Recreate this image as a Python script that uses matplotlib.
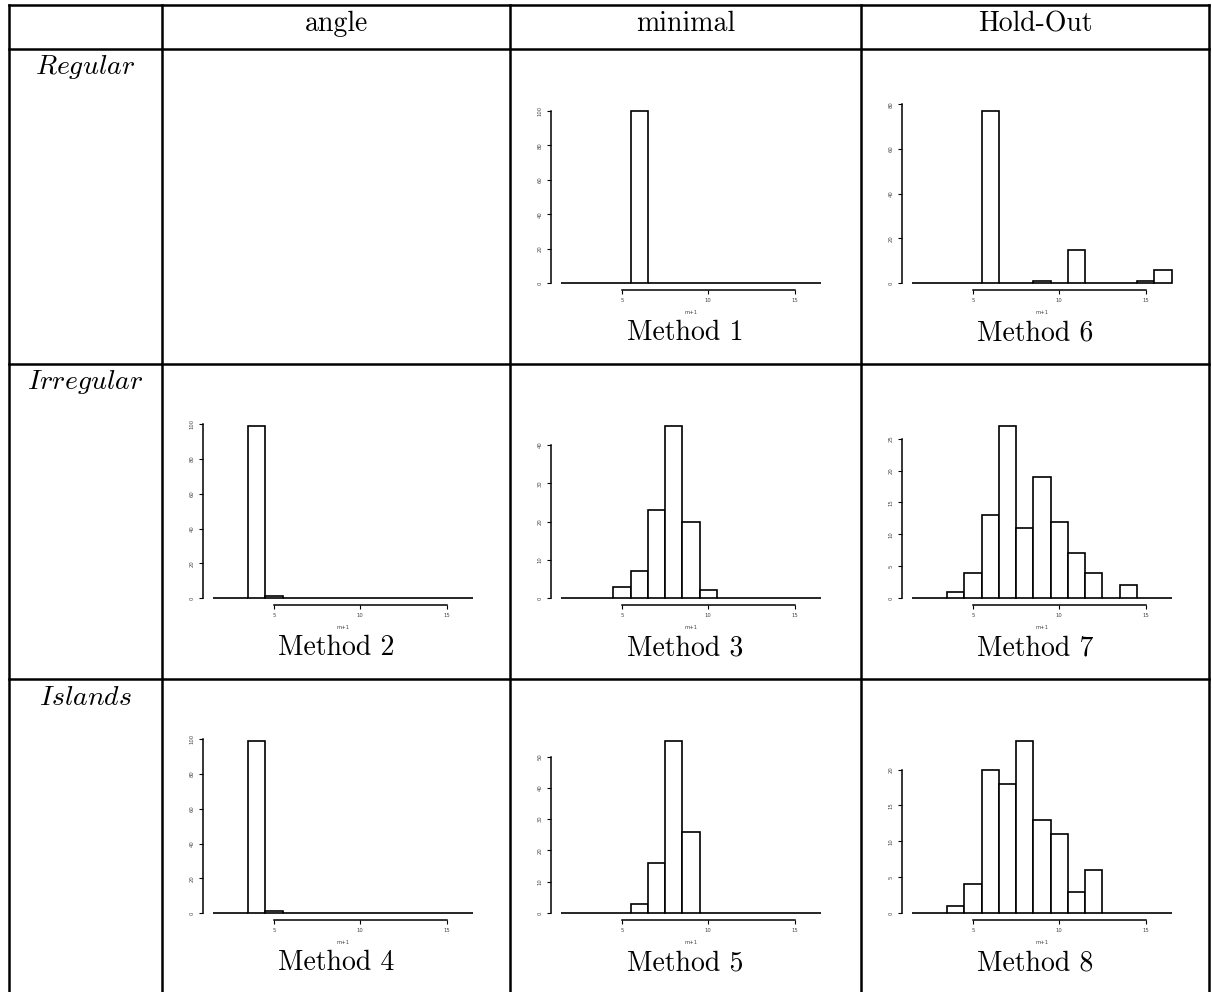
import matplotlib
matplotlib.use("Agg")
import matplotlib.pyplot as plt
from matplotlib.lines import Line2D

plt.rcParams['mathtext.fontset'] = 'cm'

# ---------------- data ----------------
bins = list(range(2, 17))          # histogram bin centres (m+1)
col_labels = ["angle", "minimal", "Hold-Out"]
row_labels = ["Regular", "Irregular", "Islands"]

m1 = [0, 0, 0, 0, 100, 0, 0, 0, 0, 0, 0, 0, 0, 0, 0]
m6 = [0, 0, 0, 0, 77, 0, 0, 1, 0, 15, 0, 0, 0, 1, 6]
m2 = [0, 0, 99, 1, 0, 0, 0, 0, 0, 0, 0, 0, 0, 0, 0]
m3 = [0, 0, 0, 3, 7, 23, 45, 20, 2, 0, 0, 0, 0, 0, 0]
m7 = [0, 0, 1, 4, 13, 27, 11, 19, 12, 7, 4, 0, 2, 0, 0]
m4 = [0, 0, 99, 1, 0, 0, 0, 0, 0, 0, 0, 0, 0, 0, 0]
m5 = [0, 0, 0, 0, 3, 16, 55, 26, 0, 0, 0, 0, 0, 0, 0]
m8 = [0, 0, 1, 4, 20, 18, 24, 13, 11, 3, 6, 0, 0, 0, 0]

yt_m1 = [0, 20, 40, 60, 80, 100]
yt_m6 = [0, 20, 40, 60, 80]
yt_m2 = [0, 20, 40, 60, 80, 100]
yt_m3 = [0, 10, 20, 30, 40]
yt_m7 = [0, 5, 10, 15, 20, 25]
yt_m4 = [0, 20, 40, 60, 80, 100]
yt_m5 = [0, 10, 20, 30, 40, 50]
yt_m8 = [0, 5, 10, 15, 20]
xt = [5, 10, 15]

# (row, col, counts, yticks, label)
panels = [
    (0, 1, m1, yt_m1, "Method 1"),
    (0, 2, m6, yt_m6, "Method 6"),
    (1, 0, m2, yt_m2, "Method 2"),
    (1, 1, m3, yt_m3, "Method 3"),
    (1, 2, m7, yt_m7, "Method 7"),
    (2, 0, m4, yt_m4, "Method 4"),
    (2, 1, m5, yt_m5, "Method 5"),
    (2, 2, m8, yt_m8, "Method 8"),
]

# ---------------- layout (pixels, top-left origin) ----------------
W, H = 1212, 992
vlines = [9, 162, 510, 861, 1209]
top_y = 5
header_y = 49
row_tops = [49, 364, 679]

fig = plt.figure(figsize=(W / 100, H / 100), dpi=100)
bg = fig.add_axes([0, 0, 1, 1])
bg.set_xlim(0, W)
bg.set_ylim(H, 0)
bg.axis('off')

lw_table = 1.8
for y in [top_y, header_y, row_tops[1], row_tops[2]]:
    bg.add_line(Line2D([vlines[0], vlines[-1]], [y, y], color='black', lw=lw_table))
for x in vlines:
    bg.add_line(Line2D([x, x], [top_y, H + 5], color='black', lw=lw_table))

for j, lab in enumerate(col_labels):
    cx = (vlines[j + 1] + vlines[j + 2]) / 2
    bg.text(cx, 31, lab, ha='center', va='baseline', fontsize=20, family='cmr10')

for i, lab in enumerate(row_labels):
    cx = (vlines[0] + vlines[1]) / 2
    bg.text(cx, row_tops[i] + 4, r'$\mathit{' + lab + '}$', ha='center', va='top',
            fontsize=20)

for (r, c, counts, yt, lab) in panels:
    x0 = vlines[c + 1]
    x1 = vlines[c + 2]
    y0 = row_tops[r]
    ax_left = x0 + 41
    ax_w = 280
    ax_top = y0 + 55
    ax_h = 186
    ax = fig.add_axes([ax_left / W, 1 - (ax_top + ax_h) / H, ax_w / W, ax_h / H])
    M = max(counts)
    ax.bar(bins, counts, width=1.0, facecolor='white', edgecolor='black', lw=1.2)
    ax.set_xlim(0.9, 17.1)
    ax.set_ylim(-0.04 * M, 1.04 * M)
    for s in ['top', 'right']:
        ax.spines[s].set_visible(False)
    ax.spines['left'].set_bounds(yt[0], yt[-1])
    ax.spines['bottom'].set_bounds(xt[0], xt[-1])
    ax.spines['left'].set_linewidth(1.1)
    ax.spines['bottom'].set_linewidth(1.1)
    ax.set_xticks(xt)
    ax.set_xticklabels([str(v) for v in xt])
    ax.set_yticks(yt)
    ax.set_yticklabels([str(v) for v in yt], rotation=90, va='center')
    ax.tick_params(axis='both', labelsize=3.8, length=3, width=0.8, pad=3,
                   colors='black', labelcolor='#444444')
    ax.set_xlabel('m+1', fontsize=3.8, labelpad=5, color='#444444')
    ax.patch.set_alpha(0)
    bg.text((x0 + x1) / 2, y0 + 284, lab, ha='center', va='center',
            fontsize=20, family='cmr10')

fig.savefig('out.png', dpi=100)
